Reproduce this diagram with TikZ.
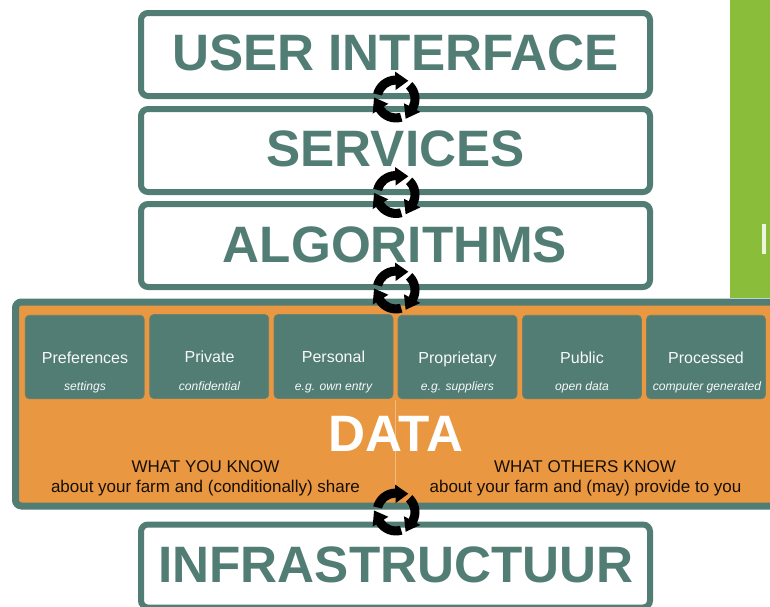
\documentclass[tikz,border=0pt]{standalone}
\usepackage{fontspec}
\setmainfont{Liberation Sans}
\definecolor{teal}{HTML}{527D75}
\definecolor{orng}{HTML}{E99741}
\definecolor{grn}{HTML}{8ABD3A}
\tikzset{
  x=1pt,y=-1pt,
  layerbox/.style={draw=teal,line width=6pt,fill=white,rounded corners=7pt,inner sep=0pt},
  title/.style={font=\bfseries\fontsize{51.2}{51}\selectfont,text=teal,inner sep=0pt,anchor=base},
  catbox/.style={fill=teal,draw=teal!85!orng,line width=.6pt,rounded corners=4pt,inner sep=0pt},
  cathead/.style={font=\fontsize{16}{16}\selectfont,text=white!95!teal,inner sep=0pt,anchor=base},
  catsub/.style={font=\itshape\fontsize{12.1}{12}\selectfont,text=white!95!teal,inner sep=0pt,anchor=base},
  know/.style={font=\fontsize{17}{20}\selectfont,text=black!90!orng,inner sep=0pt,anchor=base},
  cycle/.pic={
    \begin{scope}[x=1pt,y=1pt]
    \foreach \r in {0,-120,-240}{
      \begin{scope}[rotate=\r]
      \fill[black] (166:14.5) arc[start angle=166,end angle=92,radius=14.5]
        -- (92:9) -- (56:22) -- (92:27.5) -- (92:23.5)
        arc[start angle=92,end angle=166,radius=23.5] -- cycle;
      \end{scope}
    }
    \end{scope}
  }
}
\begin{document}
\begin{tikzpicture}
\useasboundingbox (0,0) rectangle (770,606);
\clip (0,0) rectangle (770,606);
\fill[white] (0,0) rectangle (770,606);
\fill[grn] (730,0) rectangle (770,298);
\fill[white!85!grn] (762,224) rectangle (765.5,254);

\node[layerbox,minimum width=509pt,minimum height=83pt] (ui) at (395.5,54.5) {};
\node[layerbox,minimum width=509pt,minimum height=83pt] (services) at (395.5,150.5) {};
\node[layerbox,minimum width=509pt,minimum height=83pt] (algo) at (395.5,245.5) {};
\node[layerbox,minimum width=509pt,minimum height=83pt] (infra) at (395.5,566) {};
\node[title] (tui) at (395.5,70.5) {USER INTERFACE};
\node[title] (tsv) at (395.5,166.5) {SERVICES};
\node[title] (tal) at (395,262) {ALGORITHMS};
\node[title] (tin) at (396,582.5) {INFRASTRUCTUUR};

\node[draw=teal,line width=7pt,fill=orng,rounded corners=6pt,inner sep=0pt,minimum width=790pt,minimum height=204pt] (data) at (410.5,404) {};
\draw[white!35!orng,line width=.6pt] (395.5,400) -- (395.5,490);

\node[catbox,minimum width=119pt,minimum height=83.5pt] (c1) at (84.7,357) {};
\node[catbox,minimum width=119pt,minimum height=84pt] (c2) at (209.2,356.5) {};
\node[catbox,minimum width=119pt,minimum height=84pt] (c3) at (333.5,356.5) {};
\node[catbox,minimum width=119pt,minimum height=83.5pt] (c4) at (457.5,357) {};
\node[catbox,minimum width=119pt,minimum height=83.5pt] (c5) at (582,357) {};
\node[catbox,minimum width=119pt,minimum height=83.5pt] (c6) at (706,357) {};

\node[cathead] at (85,363) {Preferences};
\node[cathead] at (209.5,362) {Private};
\node[cathead] at (333.5,362) {Personal};
\node[cathead] at (457.5,363) {Proprietary};
\node[cathead] at (582,363) {Public};
\node[cathead] at (706,363) {Processed};
\node[catsub] at (85,390) {settings};
\node[catsub] at (209.5,390) {confidential};
\node[catsub] at (333.5,390) {e.g. own entry};
\node[catsub] at (457.5,390) {e.g. suppliers};
\node[catsub] at (582,390) {open data};
\node[catsub] at (707,390) {computer generated};

\node[font=\bfseries\fontsize{51.2}{51}\selectfont,text=white,inner sep=0pt,anchor=base] (tdata) at (396,451) {DATA};
\node[know] at (205.5,472) {WHAT YOU KNOW};
\node[know] at (205.5,492.5) {about your farm and (conditionally) share};
\node[know] at (585,472) {WHAT OTHERS KNOW};
\node[know] at (585.5,492.5) {about your farm and (may) provide to you};

\pic at (396,99) {cycle};
\pic at (396,194.5) {cycle};
\pic at (396,290) {cycle};
\pic at (396,512) {cycle};
\end{tikzpicture}
\end{document}
